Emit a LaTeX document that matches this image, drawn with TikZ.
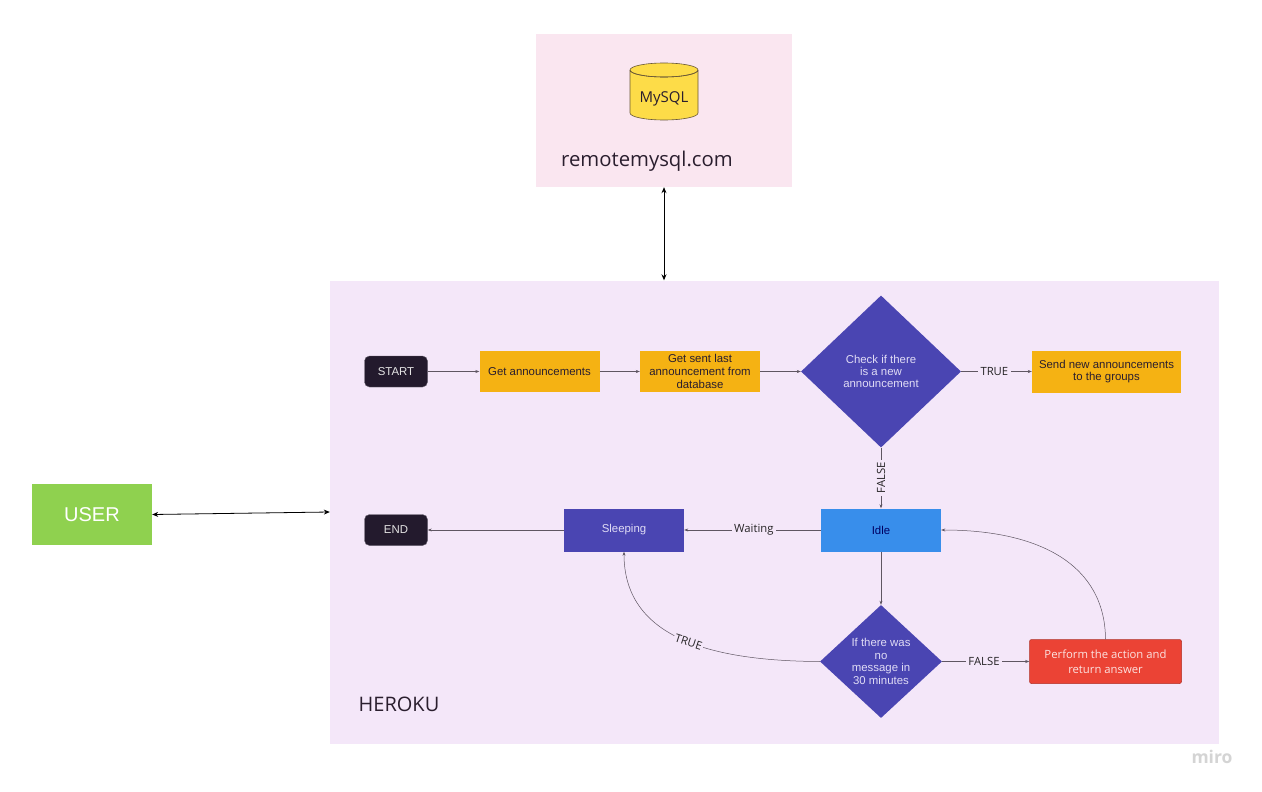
\documentclass[tikz,border=0pt]{standalone}
\usepackage{fontspec}
\setmainfont{Liberation Sans}
\newfontfamily\opensans{Open Sans}
\usetikzlibrary{arrows.meta,shapes.geometric}
\definecolor{panelpink}{HTML}{FAE6F0}
\definecolor{panellilac}{HTML}{F4E7F9}
\definecolor{usergreen}{HTML}{8FD14F}
\definecolor{darknode}{HTML}{231A2D}
\definecolor{amber}{HTML}{F5B213}
\definecolor{indigo}{HTML}{4A45B2}
\definecolor{skyblue}{HTML}{388EEB}
\definecolor{redbox}{HTML}{EB4335}
\definecolor{dbyellow}{HTML}{FDDC48}
\definecolor{inktext}{HTML}{2A1E2E}
\definecolor{lighttext}{HTML}{E0DCF5}
\tikzset{
  box/.style={rectangle,inner sep=0pt,align=center,font=\fontsize{11.4}{12.7}\selectfont},
  panel/.style={rectangle,inner sep=0pt,draw=none},
  amberbox/.style={box,fill=amber,text=inktext,minimum width=120pt,minimum height=41pt},
  indigobox/.style={box,fill=indigo,text=lighttext,minimum width=120pt,minimum height=43pt},
  darkbox/.style={box,rounded corners=5pt,fill=darknode,draw=darknode!70!white,line width=.4pt,text=white!90!black,minimum width=63pt,minimum height=31pt},
  decision/.style={diamond,aspect=1,inner sep=0pt,fill=indigo,text=lighttext,align=center,font=\fontsize{11.4}{12.4}\selectfont},
  link/.style={draw=inktext!75!white,line width=.5pt,-{Stealth[length=4pt,width=3pt]}},
  bothlink/.style={draw=black,line width=.8pt,{Stealth[length=6pt,width=5pt]}-{Stealth[length=6pt,width=5pt]}},
  edgetext/.style={fill=panellilac,inner sep=2.5pt,font=\opensans\fontsize{11.3}{12}\selectfont,text=black!85!panellilac},
  x=1pt,y=-1pt
}
\begin{document}
\begin{tikzpicture}
\useasboundingbox[fill=white] (0,0) rectangle (1262,792);
% panels
\node[panel,fill=panelpink,minimum width=256pt,minimum height=153pt] (db) at (664,110.5) {};
\node[panel,fill=panellilac,minimum width=889pt,minimum height=463pt] (heroku) at (774.5,512) {};
\node[box,fill=usergreen,text=white,minimum width=120pt,minimum height=61pt,font=\fontsize{20}{24}\selectfont] (user) at (92,514.5) {USER};
% database
\path[fill=dbyellow,draw=inktext!70!dbyellow,line width=.6pt]
  (630,70) -- (630,113) arc[start angle=180,end angle=360,x radius=34,y radius=-7] -- (698,70)
  arc[start angle=0,end angle=360,x radius=34,y radius=-7];
\path[draw=inktext!70!dbyellow,line width=.6pt] (630,70) arc[start angle=180,end angle=360,x radius=34,y radius=-7];
\node[font=\opensans\fontsize{15}{18}\selectfont,text=inktext,inner sep=0pt] (mysql) at (664,99) {MySQL};
\node[font=\opensans\fontsize{20.3}{24}\selectfont,text=inktext,inner sep=0pt] (remote) at (647,161) {remotemysql.com};
\node[font=\opensans\fontsize{20}{24}\selectfont,text=inktext,inner sep=0pt] (herokutext) at (399,704) {HEROKU};
% flow nodes
\node[darkbox] (start) at (396,371.5) {START};
\node[darkbox] (end) at (396,530) {END};
\node[amberbox] (get) at (539.5,371.5) {Get announcements};
\node[amberbox] (last) at (700,371.5) {Get sent last\\announcement from\\database};
\node[decision,minimum width=160pt,minimum height=152pt] (check) at (881,371.5) {Check if there\\is a new\\announcement};
\node[box,fill=amber,text=inktext,minimum width=149pt,minimum height=42pt] (send) at (1106.5,371.5) {Send new announcements\\to the groups};
\node[box,fill=skyblue,text=black!15!blue!45!black,minimum width=120pt,minimum height=43pt] (idle) at (881,530) {\raisebox{-.5pt}{Idle}};
\node[indigobox] (sleep) at (624,530) {\raisebox{-.7pt}{Sleeping}};
\node[decision,minimum width=122pt,minimum height=113pt] (nomsg) at (881,661.5) {If there was\\no\\message in\\30 minutes};
\node[box,rounded corners=2pt,fill=redbox,draw=redbox!75!black,line width=.5pt,text=white!85!redbox,minimum width=152pt,minimum height=44pt,font=\opensans\fontsize{11.3}{15.5}\selectfont] (perform) at (1105.5,661.5) {Perform the action and\\return answer};
% connectors
\draw[bothlink] (db.south) -- (heroku.north -| db.south);
\draw[bothlink] (user.east) -- (heroku.west);
\draw[link] (start) -- (get);
\draw[link] (get) -- (last);
\draw[link] (last) -- (check);
\draw[link] (check) -- node[edgetext,pos=.47] {TRUE} (send);
\draw[link] (check) -- node[edgetext,rotate=90] {FALSE} (idle);
\draw[link] (idle) -- node[edgetext,pos=.49] {Waiting} (sleep);
\draw[link] (sleep) -- (end);
\draw[link] (idle) -- (nomsg);
\draw[link] (nomsg) -- node[edgetext,pos=.48] {FALSE} (perform);
\draw[link] (nomsg.west) .. controls (705,661) and (624,635) .. node[pos=.455,edgetext,inner sep=1.5pt,rotate=-18] {TRUE} (sleep.south);
\draw[link] (perform.north) .. controls (1105,565) and (1040,530) .. (idle.east);
% watermark
\node[font=\opensans\bfseries\fontsize{17.5}{20}\selectfont,text=black!17,inner sep=0pt] (miro) at (1212,757) {miro};
\end{tikzpicture}
\end{document}
